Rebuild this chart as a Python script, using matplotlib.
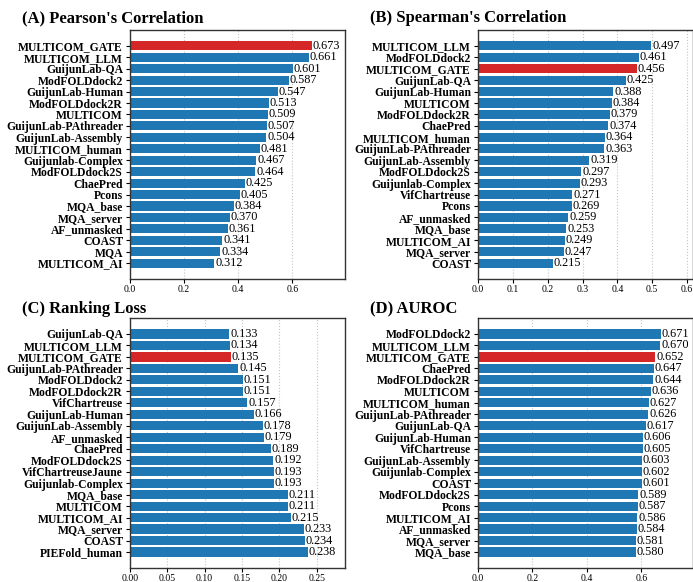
import matplotlib
matplotlib.use("Agg")
import matplotlib.pyplot as plt

plt.rcParams['font.family'] = ['Liberation Serif', 'DejaVu Serif']

highlight = "MULTICOM_GATE"

pearson_names = ["MULTICOM_GATE", "MULTICOM_LLM", "GuijunLab-QA", "ModFOLDdock2",
                 "GuijunLab-Human", "ModFOLDdock2R", "MULTICOM", "GuijunLab-PAthreader",
                 "GuijunLab-Assembly", "MULTICOM_human", "Guijunlab-Complex", "ModFOLDdock2S",
                 "ChaePred", "Pcons", "MQA_base", "MQA_server", "AF_unmasked", "COAST",
                 "MQA", "MULTICOM_AI"]
pearson_vals = [0.673, 0.661, 0.601, 0.587, 0.547, 0.513, 0.509, 0.507, 0.504, 0.481,
                0.467, 0.464, 0.425, 0.405, 0.384, 0.370, 0.361, 0.341, 0.334, 0.312]

spearman_names = ["MULTICOM_LLM", "ModFOLDdock2", "MULTICOM_GATE", "GuijunLab-QA",
                  "GuijunLab-Human", "MULTICOM", "ModFOLDdock2R", "ChaePred",
                  "MULTICOM_human", "GuijunLab-PAthreader", "GuijunLab-Assembly",
                  "ModFOLDdock2S", "Guijunlab-Complex", "VifChartreuse", "Pcons",
                  "AF_unmasked", "MQA_base", "MULTICOM_AI", "MQA_server", "COAST"]
spearman_vals = [0.497, 0.461, 0.456, 0.425, 0.388, 0.384, 0.379, 0.374, 0.364, 0.363,
                 0.319, 0.297, 0.293, 0.271, 0.269, 0.259, 0.253, 0.249, 0.247, 0.215]

loss_names = ["GuijunLab-QA", "MULTICOM_LLM", "MULTICOM_GATE", "GuijunLab-PAthreader",
              "ModFOLDdock2", "ModFOLDdock2R", "VifChartreuse", "GuijunLab-Human",
              "GuijunLab-Assembly", "AF_unmasked", "ChaePred", "ModFOLDdock2S",
              "VifChartreuseJaune", "Guijunlab-Complex", "MQA_base", "MULTICOM",
              "MULTICOM_AI", "MQA_server", "COAST", "PIEFold_human"]
loss_vals = [0.133, 0.134, 0.135, 0.145, 0.151, 0.151, 0.157, 0.166, 0.178, 0.179,
             0.189, 0.192, 0.193, 0.193, 0.211, 0.211, 0.215, 0.233, 0.234, 0.238]

auroc_names = ["ModFOLDdock2", "MULTICOM_LLM", "MULTICOM_GATE", "ChaePred",
               "ModFOLDdock2R", "MULTICOM", "MULTICOM_human", "GuijunLab-PAthreader",
               "GuijunLab-QA", "GuijunLab-Human", "VifChartreuse", "GuijunLab-Assembly",
               "Guijunlab-Complex", "COAST", "ModFOLDdock2S", "Pcons", "MULTICOM_AI",
               "AF_unmasked", "MQA_server", "MQA_base"]
auroc_vals = [0.671, 0.670, 0.652, 0.647, 0.644, 0.636, 0.627, 0.626, 0.617, 0.606,
              0.605, 0.603, 0.602, 0.601, 0.589, 0.587, 0.586, 0.584, 0.581, 0.580]


def draw_panel(ax, names, vals, xmax, ticks, fmt):
    colors = ['#d62728' if n == highlight else '#1f77b4' for n in names]
    pos = list(range(len(names)))
    ax.barh(pos, vals, height=0.8, color=colors, zorder=2)
    for p, v in zip(pos, vals):
        ax.text(v + xmax * 0.004, p, f"{v:.3f}", va='center', ha='left', fontsize=8.8)
    ax.set_yticks(pos)
    ax.set_yticklabels(names, fontsize=8.4, fontweight='bold')
    ax.invert_yaxis()
    ax.set_xlim(0, xmax)
    ax.set_xticks(ticks)
    ax.set_xticklabels([fmt.format(t) for t in ticks], fontsize=7)
    ax.grid(axis='x', linestyle=':', color='#c4c4c4', linewidth=0.8, zorder=0)
    ax.tick_params(axis='both', length=3, width=0.8, pad=2)
    ax.tick_params(axis='x', pad=1.5)
    for s in ax.spines.values():
        s.set_color('#333333')
        s.set_linewidth(1.0)


fig = plt.figure(figsize=(6.93, 5.82), dpi=100)
W, H = 693, 582


def add_ax(left, top, width, height):
    return fig.add_axes([left / W, 1 - (top + height) / H, width / W, height / H])


ax_a = add_ax(130, 30, 215, 249)
ax_b = add_ax(478, 30, 215, 249)
ax_c = add_ax(130, 318, 215, 250)
ax_d = add_ax(478, 318, 215, 250)

draw_panel(ax_a, pearson_names, pearson_vals, 0.795, [0.0, 0.2, 0.4, 0.6], "{:.1f}")
draw_panel(ax_b, spearman_names, spearman_vals, 0.617,
           [0.0, 0.1, 0.2, 0.3, 0.4, 0.5, 0.6], "{:.1f}")
draw_panel(ax_c, loss_names, loss_vals, 0.288,
           [0.0, 0.05, 0.10, 0.15, 0.20, 0.25], "{:.2f}")
draw_panel(ax_d, auroc_names, auroc_vals, 0.79, [0.0, 0.2, 0.4, 0.6], "{:.1f}")

titles = [("(A) Pearson's Correlation", 22, 18), ("(B) Spearman's Correlation", 370, 18),
          ("(C) Ranking Loss", 22, 309), ("(D) AUROC", 370, 309)]
for t, x, y in titles:
    fig.text(x / W, 1 - y / H, t, fontsize=12, fontweight='bold', va='center', ha='left')

fig.savefig("out.png", dpi=100)
